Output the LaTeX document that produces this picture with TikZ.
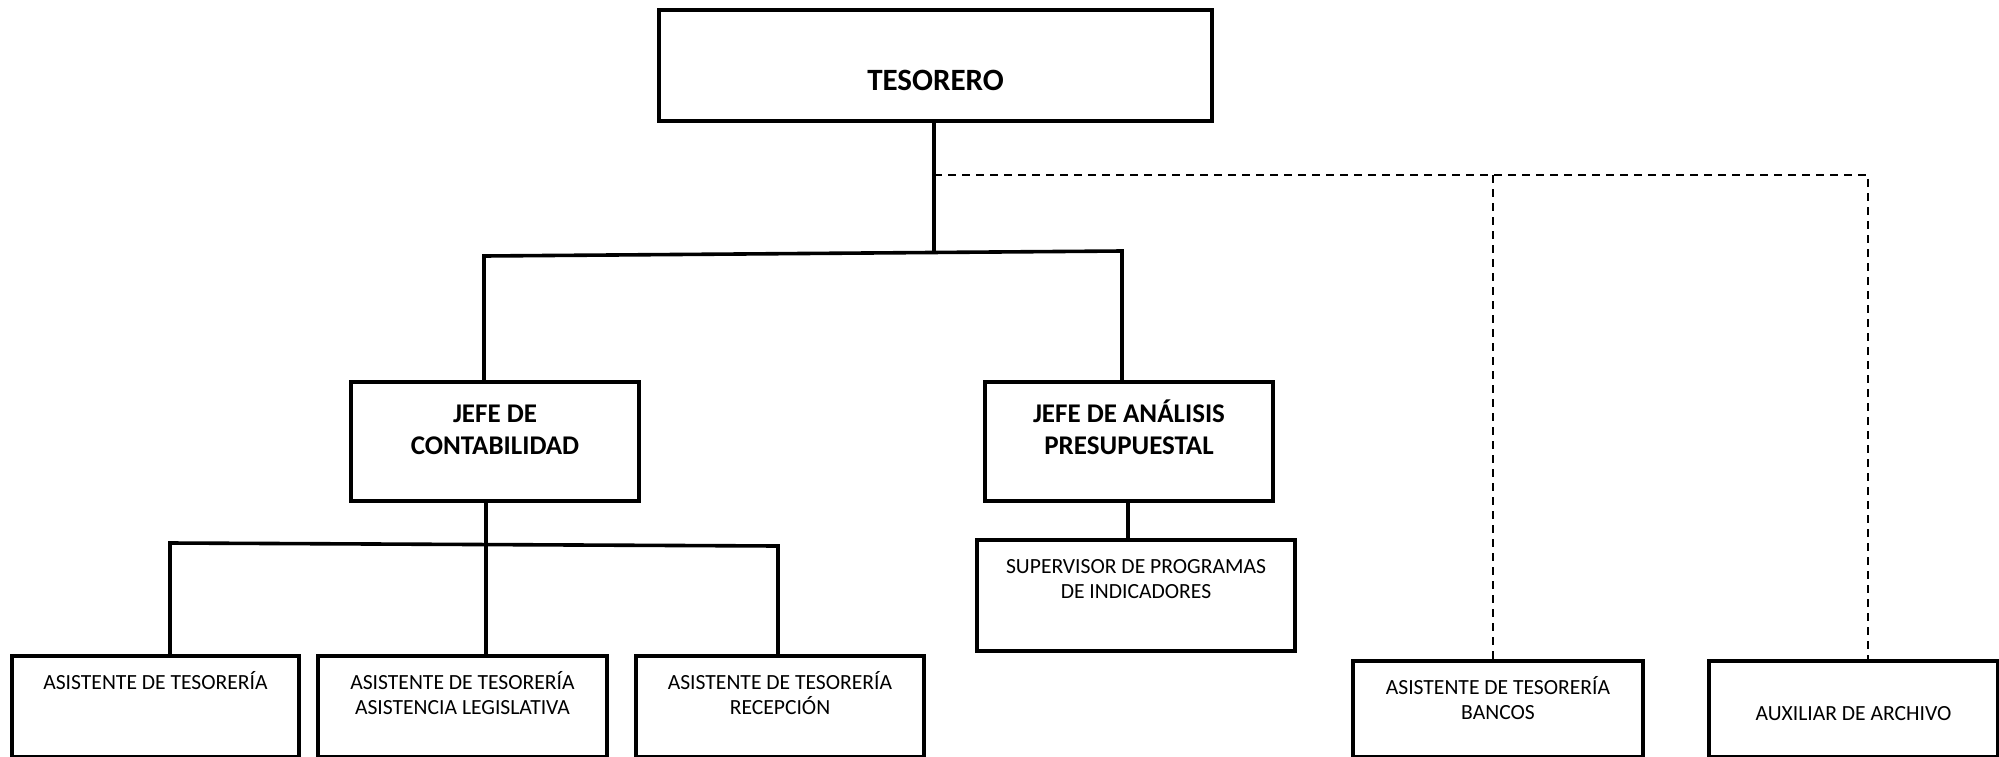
\documentclass[tikz,border=0pt]{standalone}
\usepackage{fontspec}
\setmainfont{Carlito}
\newcommand\ftitle{\fontsize{15.5}{18}\bfseries\selectfont}
\newcommand\fmid{\fontsize{13.5}{16}\bfseries\selectfont}
\newcommand\fsmall{\fontsize{10.8}{12.5}\selectfont}
\begin{document}
\begin{tikzpicture}[x=0.5pt,y=-0.5pt,
  box/.style={draw,line width=2pt,inner sep=0pt,anchor=north west},
  conn/.style={line width=1.8pt},
  dconn/.style={line width=1pt,dash pattern=on 4pt off 3pt}]
\useasboundingbox (0,0) rectangle (1999,756);
% boxes
\node[box] (T) at (657,8) {\parbox[c][55.5pt][t]{276.5pt}{\centering\ftitle\rule{0pt}{40pt}TESORERO}};
\node[box] (JC) at (349,380) {\parbox[c][59.5pt][t]{144pt}{\centering\fmid\rule{0pt}{20pt}JEFE DE\\CONTABILIDAD}};
\node[box] (JA) at (983,380) {\parbox[c][59.5pt][t]{144pt}{\centering\fmid\rule{0pt}{20pt}JEFE DE ANÁLISIS\\PRESUPUESTAL}};
\node[box] (SUP) at (975,538) {\parbox[c][55.5pt][t]{159pt}{\centering\fsmall\rule{0pt}{16.5pt}SUPERVISOR DE PROGRAMAS\\DE INDICADORES}};
\node[box] (B1) at (10,654) {\parbox[c][50.5pt][t]{143.5pt}{\centering\fsmall\rule{0pt}{16.5pt}ASISTENTE DE TESORERÍA}};
\node[box] (B2) at (316,654) {\parbox[c][50.5pt][t]{144.5pt}{\centering\fsmall\rule{0pt}{16.5pt}ASISTENTE DE TESORERÍA\\ASISTENCIA LEGISLATIVA}};
\node[box] (B3) at (634,654) {\parbox[c][50.5pt][t]{144pt}{\centering\fsmall\rule{0pt}{16.5pt}ASISTENTE DE TESORERÍA\\RECEPCIÓN}};
\node[box] (BAN) at (1351,659) {\parbox[c][48pt][t]{145pt}{\centering\fsmall\rule{0pt}{16.5pt}ASISTENTE DE TESORERÍA\\BANCOS}};
\node[box] (AUX) at (1707,659) {\parbox[c][48pt][t]{144.5pt}{\centering\fsmall\rule{0pt}{29.5pt}AUXILIAR DE ARCHIVO}};
% junction coordinates
\coordinate (tj) at (934,254);
\coordinate (hl) at (484,256);
\coordinate (hr) at (1122,251);
\coordinate (cj) at (486,544);
\coordinate (cl) at (170,543);
\coordinate (cr) at (778,546);
\coordinate (dj) at (934,175);
\coordinate (d1) at (1493,175);
\coordinate (d2) at (1868,175);
\coordinate (sa) at (1128,499);
% solid connectors
\draw[conn] (T.south -| tj) -- (tj);
\draw[conn] (hl |- JC.north) -- (hl) -- (hr) -- (hr |- JA.north);
\draw[conn] (JC.south -| cj) -- (cj |- B2.north);
\draw[conn] (cl |- B1.north) -- (cl) -- (cr) -- (cr |- B3.north);
\draw[conn] (JA.south -| sa) -- (sa |- SUP.north);
% dashed connectors
\draw[dconn] (dj) -- (d2) -- (d2 |- AUX.north);
\draw[dconn] (d1) -- (d1 |- BAN.north);
\end{tikzpicture}
\end{document}
